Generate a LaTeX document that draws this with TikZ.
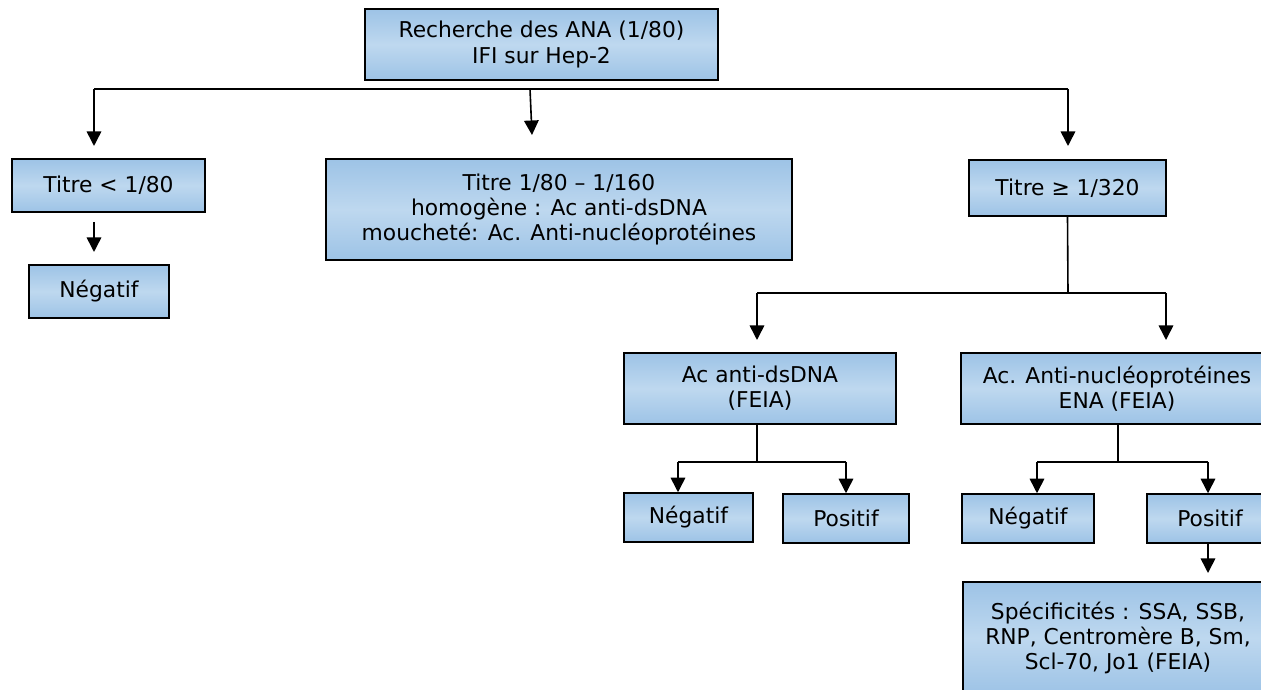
\documentclass[tikz,border=0pt]{standalone}
\usepackage{fontspec}
\setmainfont{DejaVu Sans}
\usetikzlibrary{arrows.meta}

\definecolor{boxedge}{RGB}{157,195,230}
\definecolor{boxmid}{RGB}{190,216,239}

\tikzset{
  box/.style={draw=black, line width=0.03cm, rectangle, inner sep=0pt,
    top color=boxedge, bottom color=boxedge, middle color=boxmid,
    align=center, font=\fontsize{12.4}{14.4}\selectfont},
  link/.style={line width=0.032cm},
  arr/.style={link, -{Triangle[length=0.29cm, width=0.29cm]}},
}

\begin{document}
\begin{tikzpicture}
                \useasboundingbox (0,0) rectangle (25.220000,13.800000);
                \clip (0,0) rectangle (25.220000,13.800000);

                % Box ANA (top)
                \node [box, minimum width=7.06cm, minimum height=1.42cm] (ana) at (10.830000,12.910000)
                  {Recherche des ANA (1/80)\\IFI sur Hep-2};%

                % Boxes titre (first row)
                \node [box, minimum width=3.86cm, minimum height=1.06cm] (tlow) at (2.170000,10.090000)
                  {Titre < 1/80};%
                \node [box, minimum width=9.32cm, minimum height=2.02cm] (tmid) at (11.180000,9.610000)
                  {Titre 1/80 – 1/160\\homogène : Ac anti-dsDNA\\moucheté: Ac. Anti-nucléoprotéines};%
                \node [box, minimum width=3.94cm, minimum height=1.12cm] (thigh) at (21.350000,10.040000)
                  {Titre ≥ 1/320};%

                % Box negatif under titre < 1/80
                \node [box, minimum width=2.80cm, minimum height=1.06cm] (neglow) at (1.980000,7.970000)
                  {Négatif};%

                % Boxes FEIA (second row)
                \node [box, minimum width=5.44cm, minimum height=1.42cm] (dsdna) at (15.200000,6.030000)
                  {Ac anti-dsDNA\\(FEIA)};%
                \node [box, minimum width=6.24cm, minimum height=1.42cm] (ena) at (22.340000,6.030000)
                  {Ac. Anti-nucléoprotéines\\ENA (FEIA)};%

                % Boxes results (third row)
                \node [box, minimum width=2.58cm, minimum height=0.98cm] (negdna) at (13.770000,3.450000)
                  {Négatif};%
                \node [box, minimum width=2.52cm, minimum height=0.98cm] (posdna) at (16.920000,3.430000)
                  {Positif};%
                \node [box, minimum width=2.64cm, minimum height=0.98cm] (negena) at (20.560000,3.430000)
                  {Négatif};%
                \node [box, minimum width=2.52cm, minimum height=0.98cm] (posena) at (24.200000,3.430000)
                  {Positif};%

                % Box specificites
                \node [box, minimum width=6.20cm, minimum height=2.24cm] (spec) at (22.360000,1.040000)
                  {Spécificités : SSA, SSB,\\RNP, Centromère B, Sm,\\Scl-70, Jo1 (FEIA)};%

                % Junction points and arrow ends
                \coordinate (hl) at (1.880000,12.020000);
                \coordinate (hm) at (10.600000,12.020000);
                \coordinate (hr) at (21.360000,12.020000);
                \coordinate (hlend) at (1.880000,10.880000);
                \coordinate (hmend) at (10.640000,11.100000);
                \coordinate (hrend) at (21.360000,10.880000);
                \coordinate (lowa) at (1.880000,9.360000);
                \coordinate (lowb) at (1.880000,8.760000);
                \coordinate (hj) at (21.360000,7.940000);
                \coordinate (hjl) at (15.140000,7.940000);
                \coordinate (hjr) at (23.320000,7.940000);
                \coordinate (hjlend) at (15.140000,7.000000);
                \coordinate (hjrend) at (23.320000,7.000000);
                \coordinate (dj) at (15.140000,4.560000);
                \coordinate (djl) at (13.560000,4.560000);
                \coordinate (djr) at (16.920000,4.560000);
                \coordinate (ej) at (22.360000,4.560000);
                \coordinate (ejl) at (20.740000,4.560000);
                \coordinate (ejr) at (24.160000,4.560000);
                \coordinate (pa) at (24.160000,2.920000);
                \coordinate (pb) at (24.160000,2.340000);

                % Drawing segment ANA -> titres
                \draw [link] (hl) -- (hr);%
                \draw [arr] (hl) -- (hlend);%
                \draw [arr] (hm) -- (hmend);%
                \draw [arr] (hr) -- (hrend);%

                % Drawing segment tlow -> neglow
                \draw [arr] (lowa) -- (lowb);%

                % Drawing segment thigh -> dsdna, ena
                \draw [link] (thigh.south) -- (hj);%
                \draw [link] (hjl) -- (hjr);%
                \draw [arr] (hjl) -- (hjlend);%
                \draw [arr] (hjr) -- (hjrend);%

                % Drawing segment dsdna -> negdna, posdna
                \draw [link] (dsdna.south -| dj) -- (dj);%
                \draw [link] (djl) -- (djr);%
                \draw [arr] (djl) -- (djl |- negdna.north);%
                \draw [arr] (djr) -- (djr |- posdna.north);%

                % Drawing segment ena -> negena, posena
                \draw [link] (ena.south -| ej) -- (ej);%
                \draw [link] (ejl) -- (ejr);%
                \draw [arr] (ejl) -- (ejl |- negena.north);%
                \draw [arr] (ejr) -- (ejr |- posena.north);%

                % Drawing segment posena -> spec
                \draw [arr] (pa) -- (pb);%
\end{tikzpicture}
\end{document}
